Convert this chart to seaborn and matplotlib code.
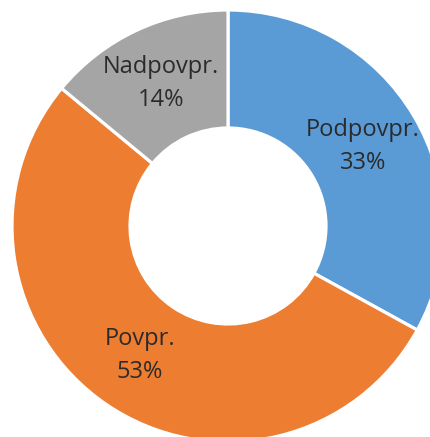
import matplotlib
matplotlib.use("Agg")
import matplotlib.pyplot as plt
import seaborn as sns

categories = ["Podpovpr.", "Povpr.", "Nadpovpr."]
values = [33, 53, 14]
colors = ["#5B9BD5", "#ED7D31", "#A5A5A5"]

sns.set_style("white")
plt.rcParams["font.family"] = ["Open Sans", "DejaVu Sans"]

W, H = 431, 437
fig = plt.figure(figsize=(W / 100, H / 100), dpi=100)
ax = fig.add_axes([0, 0, 1, 1])

cx, cy = 228, H - 226
R = 216
r_in = 98

labels_iter = iter(categories)


def fmt(p):
    return f"{next(labels_iter)}\n{p:.0f}%"


wedges, texts, autotexts = ax.pie(
    values,
    colors=colors,
    startangle=90,
    counterclock=False,
    center=(cx, cy),
    radius=R,
    autopct=fmt,
    pctdistance=((R + r_in) / 2) / R,
    wedgeprops=dict(width=R - r_in, edgecolor="white", linewidth=2.3),
    textprops=dict(fontsize=17, color="#2b2b2b"),
)
for t in autotexts:
    t.set_linespacing(1.5)

ax.set_xlim(0, W)
ax.set_ylim(0, H)
ax.set_aspect("equal")
ax.axis("off")

fig.savefig("out.png", dpi=100)
